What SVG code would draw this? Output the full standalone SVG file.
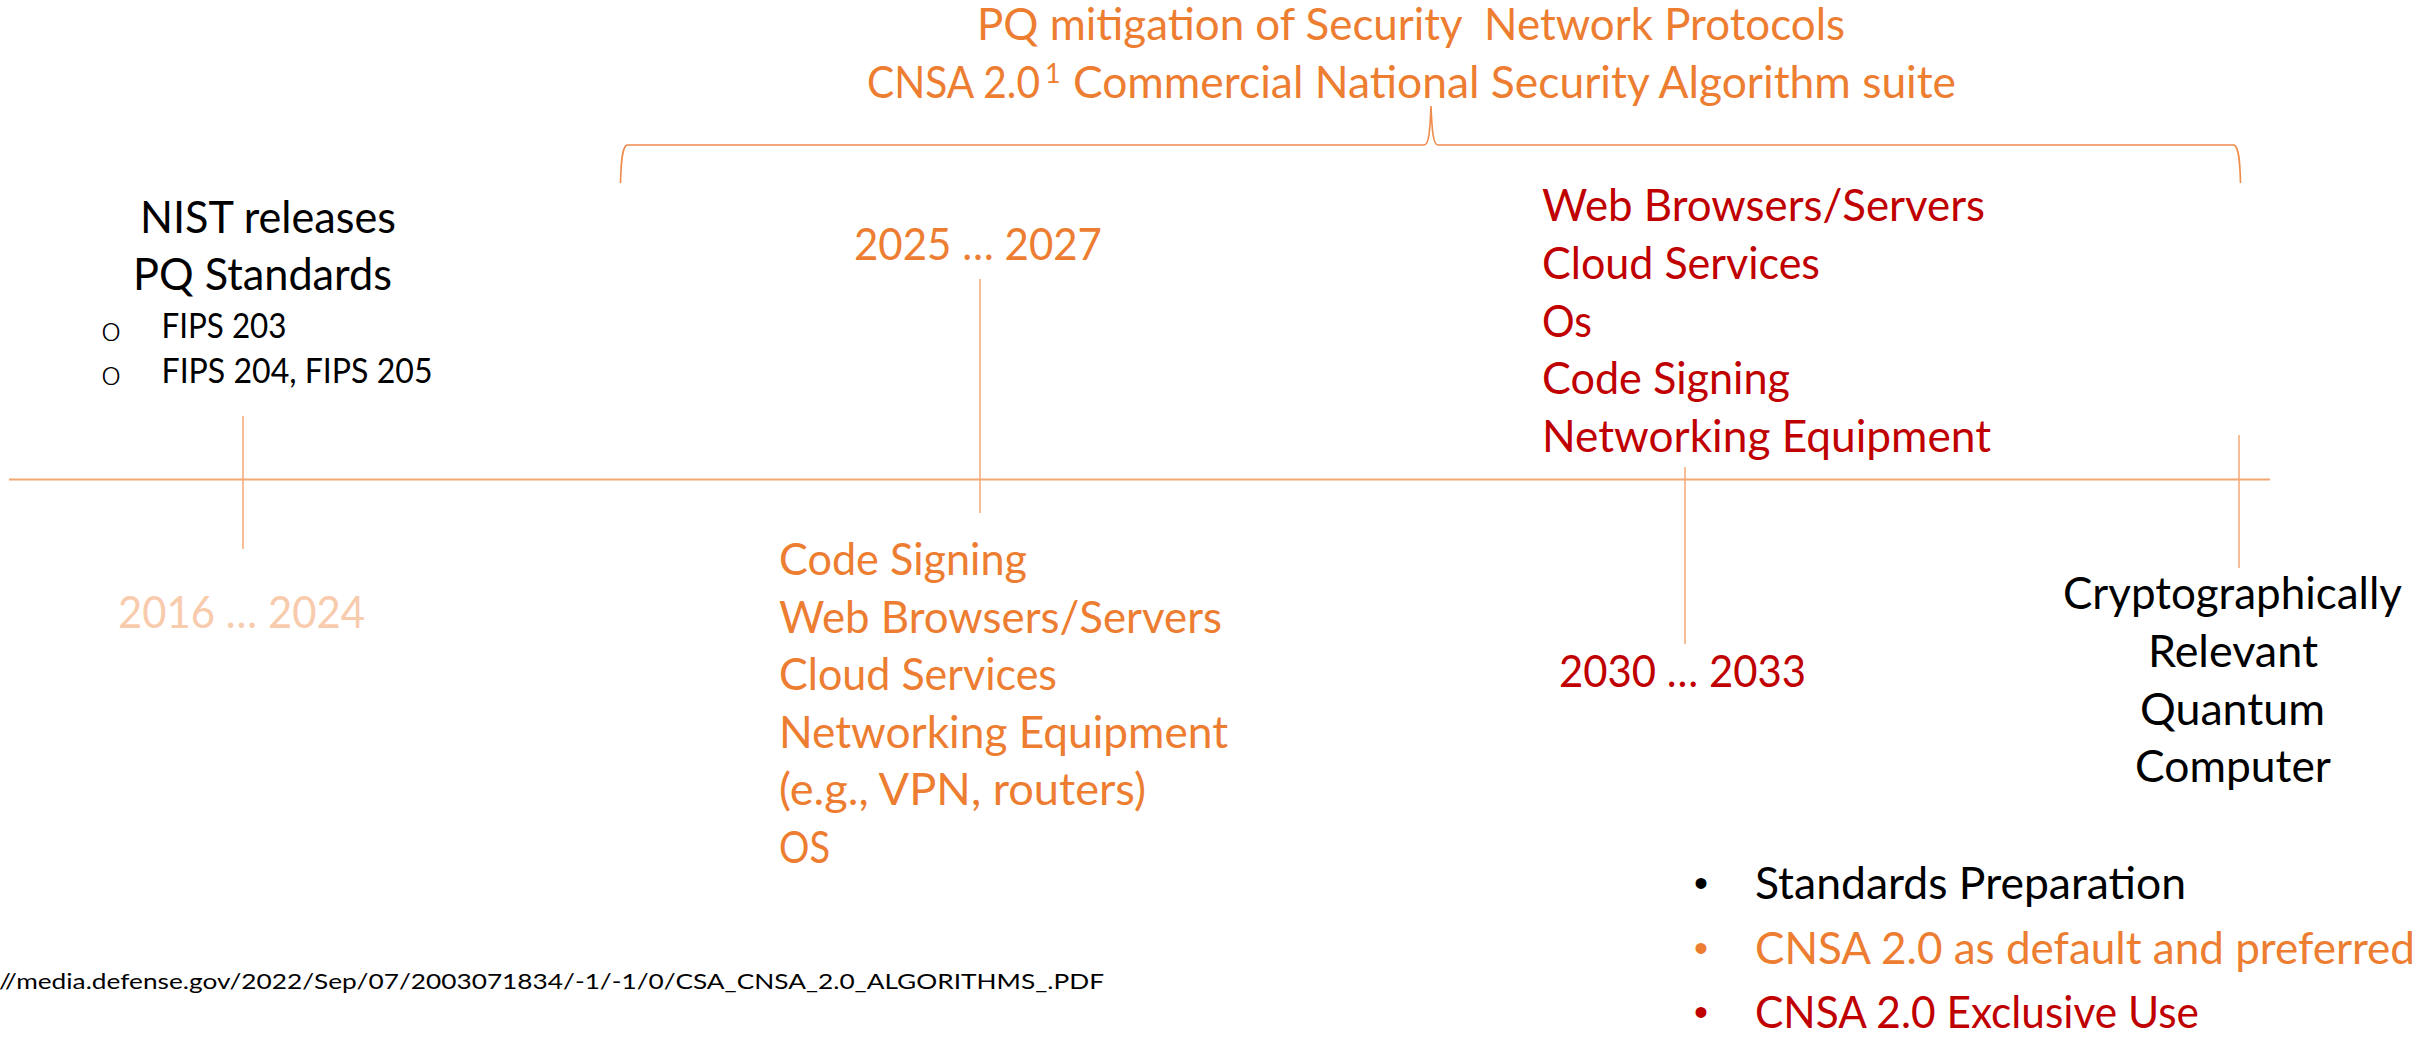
<svg xmlns="http://www.w3.org/2000/svg" width="2414" height="1040" viewBox="0 0 2414 1040">
  <style>
    text { font-family: Lato, "Open Sans", "Liberation Sans", sans-serif; font-size: 44px; }
    .orange { fill: #ED7D31; }
    .red { fill: #C00000; }
    .pale { fill: #F8CBAD; }
    .black { fill: #000000; }
    .small { font-size: 34px; }
    .note { font-size: 22px; }
    .ring { font-size: 36px; font-weight: 300; text-anchor: middle; }
    .dot { font-family: "Liberation Sans", sans-serif; font-size: 40px; text-anchor: middle; }
    .axis { stroke: #F3A774; stroke-width: 2; fill: none; }
    .tick { stroke: #F3A774; stroke-width: 1.5; fill: none; }
    .brace { stroke: #EF8B4B; stroke-width: 1.6; fill: none; }
  </style>

  <!-- timeline axis, date ticks and the bracket over the CNSA 2.0 period -->
  <g id="connectors">
    <line class="axis" x1="9" y1="479.5" x2="2270" y2="479.5"/>
    <line class="tick" x1="243" y1="416" x2="243" y2="549"/>
    <line class="tick" x1="980" y1="279" x2="980" y2="513"/>
    <line class="tick" x1="1685" y1="467" x2="1685" y2="644"/>
    <line class="tick" x1="2239" y1="435" x2="2239" y2="568"/>
    <path class="brace" d="M620.5,183 C621,162 622,147 627,145 L1424,145 C1429,145 1430,130 1431,106 C1432,130 1433,145 1438,145 L2234,145 C2239,147 2240,162 2240.5,183"/>
  </g>

  <g id="title">
    <text class="orange" x="977" y="40" style="white-space:pre" textLength="868" lengthAdjust="spacingAndGlyphs">PQ mitigation of Security  Network Protocols</text>
    <text class="orange" x="867" y="97.5"><tspan textLength="173" lengthAdjust="spacingAndGlyphs">CNSA 2.0</tspan><tspan x="1045" y="83" font-size="27px">1</tspan> <tspan x="1073" y="97.5" textLength="883" lengthAdjust="spacingAndGlyphs">Commercial National Security Algorithm suite</tspan></text>
  </g>

  <g id="nist">
    <text class="black" x="140" y="233" textLength="256" lengthAdjust="spacingAndGlyphs">NIST releases</text>
    <text class="black" x="133" y="290" textLength="259" lengthAdjust="spacingAndGlyphs">PQ Standards</text>
    <text class="black ring" x="111" y="341">o</text>
    <text class="black small" x="161.5" y="338" textLength="125" lengthAdjust="spacingAndGlyphs">FIPS 203</text>
    <text class="black ring" x="111" y="385">o</text>
    <text class="black small" x="161.5" y="383" textLength="271" lengthAdjust="spacingAndGlyphs">FIPS 204, FIPS 205</text>
  </g>

  <g id="phase-2016">
    <text class="pale" x="118" y="628" textLength="247" lengthAdjust="spacingAndGlyphs">2016 … 2024</text>
  </g>

  <g id="phase-2025">
    <text class="orange" x="854" y="260" textLength="248" lengthAdjust="spacingAndGlyphs">2025 … 2027</text>
    <text class="orange" x="779" y="575" textLength="248" lengthAdjust="spacingAndGlyphs">Code Signing</text>
    <text class="orange" x="779" y="632.6" textLength="443" lengthAdjust="spacingAndGlyphs">Web Browsers/Servers</text>
    <text class="orange" x="779" y="690.2" textLength="278" lengthAdjust="spacingAndGlyphs">Cloud Services</text>
    <text class="orange" x="779" y="747.8" textLength="449" lengthAdjust="spacingAndGlyphs">Networking Equipment</text>
    <text class="orange" x="779" y="805.4" textLength="367" lengthAdjust="spacingAndGlyphs">(e.g., VPN, routers)</text>
    <text class="orange" x="779" y="863" textLength="51" lengthAdjust="spacingAndGlyphs">OS</text>
  </g>

  <g id="phase-2030">
    <text class="red" x="1542" y="221" textLength="443" lengthAdjust="spacingAndGlyphs">Web Browsers/Servers</text>
    <text class="red" x="1542" y="278.8" textLength="278" lengthAdjust="spacingAndGlyphs">Cloud Services</text>
    <text class="red" x="1542" y="336.6" textLength="50" lengthAdjust="spacingAndGlyphs">Os</text>
    <text class="red" x="1542" y="394.4" textLength="248" lengthAdjust="spacingAndGlyphs">Code Signing</text>
    <text class="red" x="1542" y="452.2" textLength="449" lengthAdjust="spacingAndGlyphs">Networking Equipment</text>
    <text class="red" x="1559" y="687" textLength="247" lengthAdjust="spacingAndGlyphs">2030 … 2033</text>
  </g>

  <g id="crqc">
    <text class="black" x="2063" y="609" textLength="339" lengthAdjust="spacingAndGlyphs">Cryptographically</text>
    <text class="black" x="2148" y="667" textLength="170" lengthAdjust="spacingAndGlyphs">Relevant</text>
    <text class="black" x="2140" y="724.5" textLength="185" lengthAdjust="spacingAndGlyphs">Quantum</text>
    <text class="black" x="2135" y="782" textLength="196" lengthAdjust="spacingAndGlyphs">Computer</text>
  </g>

  <g id="legend">
    <text class="black dot" x="1701" y="897">•</text>
    <text class="black" x="1755" y="899" textLength="431" lengthAdjust="spacingAndGlyphs">Standards Preparation</text>
    <text class="orange dot" x="1701" y="962">•</text>
    <text class="orange" x="1755" y="964" textLength="660" lengthAdjust="spacingAndGlyphs">CNSA 2.0 as default and preferred</text>
    <text class="red dot" x="1701" y="1026">•</text>
    <text class="red" x="1755" y="1028" textLength="444" lengthAdjust="spacingAndGlyphs">CNSA 2.0 Exclusive Use</text>
  </g>

  <g id="footnote">
    <text class="black note" x="-1" y="989" textLength="1105" lengthAdjust="spacingAndGlyphs">//media.defense.gov/2022/Sep/07/2003071834/-1/-1/0/CSA_CNSA_2.0_ALGORITHMS_.PDF</text>
  </g>
</svg>
